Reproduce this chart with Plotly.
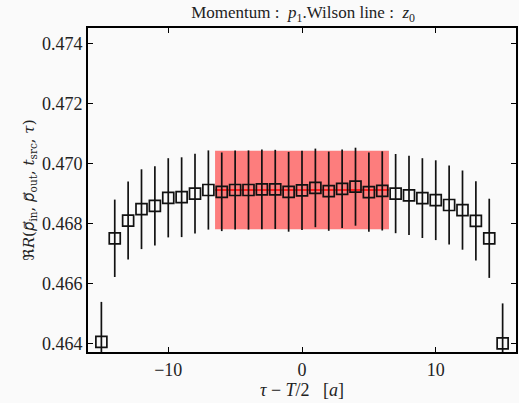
import plotly.graph_objects as go

tau = list(range(-15, 16))
values = [0.46405, 0.46750, 0.46809, 0.46847, 0.46858, 0.46885, 0.46887, 0.46899,
          0.46911, 0.46905, 0.46911, 0.46911, 0.46913, 0.46913, 0.46905, 0.46910,
          0.46918, 0.46907, 0.46915, 0.46922, 0.46904, 0.46908, 0.46899, 0.46893,
          0.46884, 0.46877, 0.46861, 0.46844, 0.46808, 0.46750, 0.46400]
errors = [0.00133, 0.00129, 0.00130, 0.00133, 0.00132, 0.00132, 0.00133, 0.00133,
          0.00132, 0.00131, 0.00132, 0.00132, 0.00133, 0.00132, 0.00133, 0.00132,
          0.00131, 0.00132, 0.00131, 0.00130, 0.00132, 0.00132, 0.00132, 0.00132,
          0.00133, 0.00133, 0.00132, 0.00132, 0.00132, 0.00132, 0.00133]
fit_range = [-6.5, 6.5]
fit_value = 0.46911
fit_error = 0.00131
y_ticks = [0.464, 0.466, 0.468, 0.470, 0.472, 0.474]
x_ticks = [-10, 0, 10]

serif = "Liberation Serif, DejaVu Serif, serif"
bg = "#fafafa"

fig = go.Figure()
# fit band
fig.add_trace(go.Scatter(
    x=[fit_range[0], fit_range[1], fit_range[1], fit_range[0], fit_range[0]],
    y=[fit_value + fit_error, fit_value + fit_error, fit_value - fit_error,
       fit_value - fit_error, fit_value + fit_error],
    fill="toself", fillcolor="rgba(255,0,0,0.5)", line=dict(width=0),
    mode="lines", hoverinfo="skip", showlegend=False))
fig.add_trace(go.Scatter(
    x=fit_range, y=[fit_value, fit_value], mode="lines",
    line=dict(color="red", width=1.5), showlegend=False))
fig.add_trace(go.Scatter(
    x=tau, y=values, mode="markers",
    marker=dict(symbol="square-open", size=11, color="#111", line=dict(width=1.7)),
    error_y=dict(type="data", array=errors, color="#111", thickness=1.7, width=0),
    showlegend=False))

arrow_p = "<i>p\u20d7</i>"
ylabel = ("\u211c<i>R</i>(" + arrow_p + "<sub>in</sub>, " + arrow_p +
          "<sub>out</sub>, <i>t</i><sub>src</sub>, <i>\u03c4</i>)")

axis_common = dict(showgrid=False, zeroline=False, showline=True, linecolor="black",
                   linewidth=2, mirror="ticks", ticks="inside", ticklen=5,
                   tickcolor="black", tickwidth=1,
                   tickfont=dict(family=serif, size=18, color="#222"))
fig.update_xaxes(range=[-16, 16], tickvals=x_ticks,
                 ticktext=["\u221210", "0", "10"],
                 title=dict(text="<i>\u03c4</i> \u2212 <i>T</i>/2 \u2002[<i>a</i>]",
                            font=dict(family=serif, size=18, color="#222"), standoff=4),
                 **axis_common)
fig.update_yaxes(range=[0.46371, 0.47451], tickvals=y_ticks,
                 ticktext=[f"{v:.3f}" for v in y_ticks],
                 title=dict(text=ylabel,
                            font=dict(family="DejaVu Serif, DejaVu Sans, serif", size=15, color="#222"), standoff=4),
                 **axis_common)
fig.update_layout(
    width=519, height=403,
    margin=dict(l=88, r=1, t=28, b=51),
    paper_bgcolor=bg, plot_bgcolor=bg,
    title=dict(text="Momentum :  <i>p</i><sub>1</sub>.Wilson line :  <i>z</i><sub>0</sub>",
               x=0.584, xanchor="center", y=0.985, yanchor="top",
               font=dict(family=serif, size=17, color="#222")),
)
fig.write_html("out.html", config={"displayModeBar": False},
               post_script="document.body.style.margin='0';document.body.style.background='#fafafa';")
